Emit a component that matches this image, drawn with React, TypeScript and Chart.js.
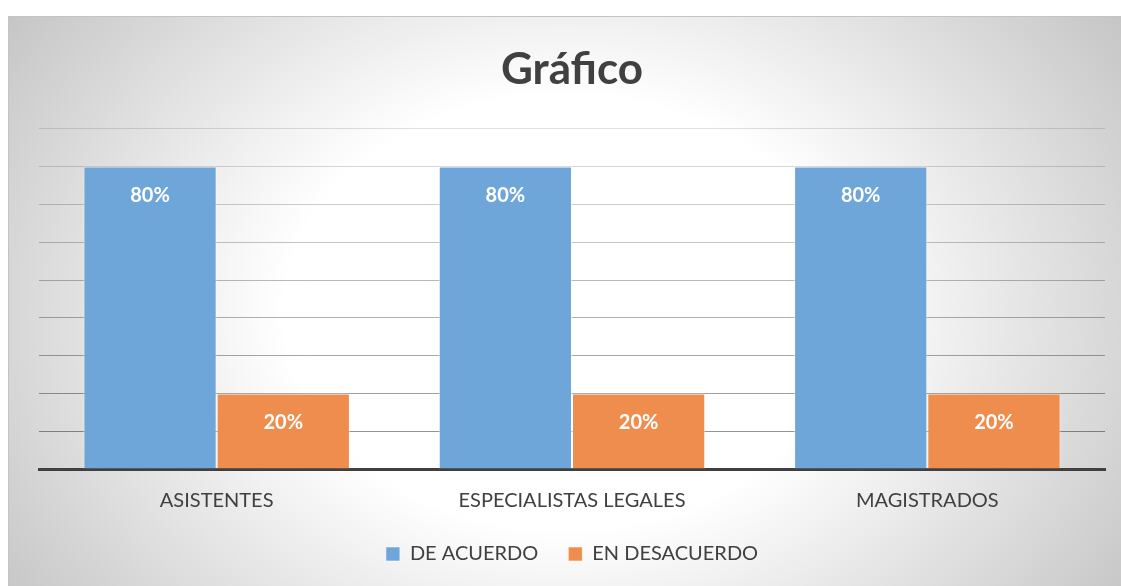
import React, { useEffect, useRef } from "react";
import { Chart, registerables } from "chart.js";

Chart.register(...registerables);

const categories = ["ASISTENTES", "ESPECIALISTAS LEGALES", "MAGISTRADOS"];
const seriesNames = ["DE ACUERDO", "EN DESACUERDO"];
const deAcuerdo = [0.8, 0.8, 0.8];
const enDesacuerdo = [0.2, 0.2, 0.2];
const yMin = 0;
const yMax = 0.9;
const yStep = 0.1;
const titleText = "Gráfico";

const FONT = "Lato, 'Open Sans', sans-serif";

const barLabelPlugin = {
  id: "barLabels",
  afterDatasetsDraw(chart: any) {
    const ctx = chart.ctx;
    ctx.save();
    ctx.fillStyle = "#ffffff";
    ctx.font = `bold 20px ${FONT}`;
    ctx.textAlign = "center";
    ctx.textBaseline = "middle";
    chart.data.datasets.forEach((ds: any, i: number) => {
      const meta = chart.getDatasetMeta(i);
      meta.data.forEach((el: any, j: number) => {
        const v = ds.data[j] as number;
        ctx.fillText(`${Math.round(v * 100)}%`, el.x, el.y + 29);
      });
    });
    ctx.restore();
  },
};

export default function App() {
  const ref = useRef<HTMLCanvasElement | null>(null);

  useEffect(() => {
    if (!ref.current) return;
    const chart = new Chart(ref.current, {
      type: "bar",
      data: {
        labels: categories,
        datasets: [
          {
            label: seriesNames[0],
            data: deAcuerdo,
            backgroundColor: "#6fa6da",
            borderColor: "rgba(255,255,255,0.55)",
            borderWidth: 1,
          },
          {
            label: seriesNames[1],
            data: enDesacuerdo,
            backgroundColor: "#ee8d4d",
            borderColor: "rgba(255,255,255,0.55)",
            borderWidth: 1,
          },
        ],
      },
      options: {
        animation: false,
        responsive: false,
        maintainAspectRatio: false,
        layout: { padding: { left: 30, right: 16, top: 0, bottom: 12 } },
        datasets: {
          bar: { categoryPercentage: 0.75, barPercentage: 1 },
        },
        scales: {
          x: {
            z: 1,
            grid: { display: false, drawTicks: false },
            border: { display: true, color: "#404040", width: 3 },
            ticks: {
              color: "#404040",
              font: { family: FONT, size: 20 },
              padding: 20,
            },
            afterFit: (scale: any) => {
              scale.height -= 19;
            },
          },
          y: {
            z: 1,
            min: yMin,
            max: yMax,
            ticks: { display: false, stepSize: yStep },
            border: { display: false },
            grid: {
              drawTicks: false,
              lineWidth: 1,
              color: (c: any) => {
                const v = c.tick ? c.tick.value : 0;
                const a = 0.12 + ((yMax - v) / 0.8) * 0.3;
                return `rgba(0,0,0,${a.toFixed(3)})`;
              },
            },
          },
        },
        plugins: {
          title: {
            display: true,
            text: titleText,
            color: "#404040",
            font: { family: FONT, size: 44, weight: "bold", lineHeight: 1.2 },
            padding: { top: 26, bottom: 33 },
          },
          legend: {
            position: "bottom",
            labels: {
              boxWidth: 14,
              boxHeight: 14,
              padding: 30,
              color: "#404040",
              font: { family: FONT, size: 20 },
            },
          },
          tooltip: { enabled: false },
        },
      },
      plugins: [barLabelPlugin],
    });
    return () => chart.destroy();
  }, []);

  return (
    <div
      style={{
        position: "fixed",
        left: 8,
        top: 16,
        width: 1113,
        height: 570,
        boxSizing: "border-box",
        borderTop: "1px solid #c4c4c4",
        borderLeft: "1px solid #c4c4c4",
        background:
          "radial-gradient(ellipse 700px 540px at 556px 295px, #ffffff 0%, #ffffff 40%, #c2c2c2 100%)",
      }}
    >
      <canvas
        ref={ref}
        width={1112}
        height={569}
        style={{ display: "block", width: 1112, height: 569 }}
      />
    </div>
  );
}
